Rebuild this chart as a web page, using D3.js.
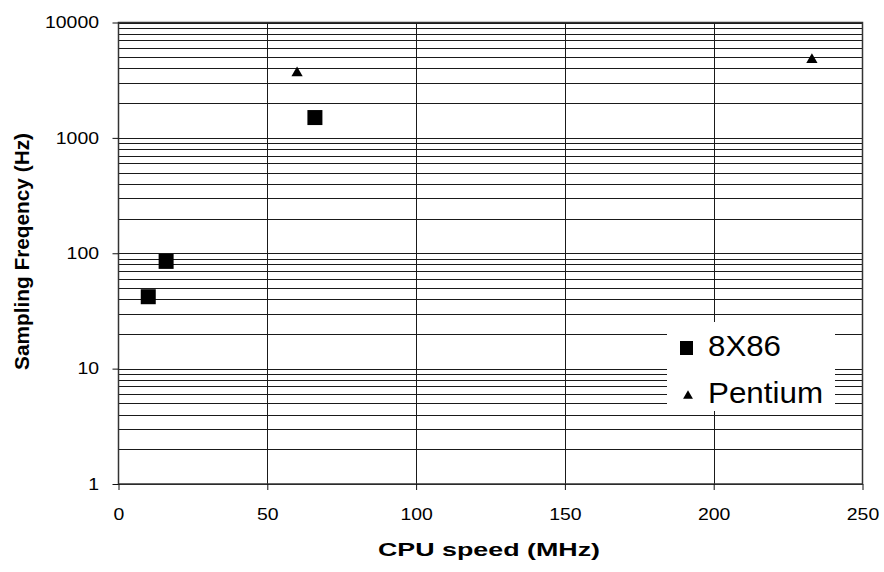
<!DOCTYPE html>
<html>
<head>
<meta charset="utf-8">
<script src="https://cdn.jsdelivr.net/npm/d3@7"></script>
<style>
  body { margin: 0; background: #fff; }
  text { font-family: "Liberation Sans", Arial, sans-serif; }
</style>
</head>
<body>
<svg id="chart" width="884" height="572"></svg>
<script>
// values
const x86Speed = [10, 16, 66];
const x86Freq = [42, 85, 1500];
const pentiumSpeed = [60, 233];
const pentiumFreq = [3650, 4750];
const xTicks = [0, 50, 100, 150, 200, 250];
const yTicks = [1, 10, 100, 1000, 10000];
const seriesNames = ["8X86", "Pentium"];

const svg = d3.select("#chart");
const pLeft = 118.5, pRight = 862.5, pTop = 22.5, pBottom = 484;

const x = d3.scaleLinear().domain([0, 250]).range([pLeft, pRight]);
const y = d3.scaleLog().domain([1, 10000]).range([pBottom, pTop]);

// minor log grid: 1..9 for each decade
let gridVals = [];
for (let d = 1; d < 10000; d *= 10)
  for (let k = 1; k < 10; k++) gridVals.push(d * k);
gridVals.push(10000);

const grid = svg.append("g");
grid.selectAll("line.h")
  .data(gridVals)
  .enter()
  .append("line")
  .attr("class", "h")
  .attr("x1", pLeft).attr("x2", pRight)
  .attr("y1", d => Math.round(y(d)) + 0.5)
  .attr("y2", d => Math.round(y(d)) + 0.5)
  .attr("stroke", "#1a1a1a")
  .attr("stroke-width", 1);

grid.selectAll("line.v")
  .data(xTicks.slice(1, -1))
  .enter()
  .append("line")
  .attr("class", "v")
  .attr("x1", d => Math.round(x(d)) + 0.5)
  .attr("x2", d => Math.round(x(d)) + 0.5)
  .attr("y1", pTop).attr("y2", pBottom)
  .attr("stroke", "#1a1a1a")
  .attr("stroke-width", 1);

// plot border
svg.append("rect")
  .attr("x", pLeft).attr("y", pTop)
  .attr("width", pRight - pLeft).attr("height", pBottom - pTop)
  .attr("fill", "none")
  .attr("stroke", "#333")
  .attr("stroke-width", 1.5);

// axes
const xAxis = svg.append("g")
  .attr("transform", `translate(0,${pBottom})`)
  .call(d3.axisBottom(x).tickValues(xTicks).tickSize(6).tickPadding(18).tickFormat(d3.format("d")));
const yAxis = svg.append("g")
  .attr("transform", `translate(${pLeft},0)`)
  .call(d3.axisLeft(y).tickValues(yTicks).tickSize(6).tickPadding(13.5).tickFormat(d3.format("d")));
[xAxis, yAxis].forEach(a => {
  a.select(".domain").remove();
  a.selectAll("line").attr("stroke", "#111");
  a.selectAll("text").attr("font-size", 16.5).attr("fill", "#000")
    .attr("font-family", "Liberation Sans, Arial, sans-serif")
    .attr("textLength", d => String(d).length * 10.8)
    .attr("lengthAdjust", "spacingAndGlyphs");
});

// points
svg.append("g")
  .selectAll("rect")
  .data(x86Speed.map((s, i) => [s, x86Freq[i]]))
  .enter()
  .append("rect")
  .attr("x", d => x(d[0]) - 7.5)
  .attr("y", d => y(d[1]) - 7.5)
  .attr("width", 15).attr("height", 15)
  .attr("fill", "#000");

const tri = d3.symbol().type(d3.symbolTriangle).size(55);
svg.append("g")
  .selectAll("path")
  .data(pentiumSpeed.map((s, i) => [s, pentiumFreq[i]]))
  .enter()
  .append("path")
  .attr("d", tri)
  .attr("transform", d => `translate(${x(d[0])},${y(d[1])})`)
  .attr("fill", "#000");

// legend
const lg = svg.append("g");
lg.append("rect")
  .attr("x", 667).attr("y", 322)
  .attr("width", 168).attr("height", 89)
  .attr("fill", "#fff");
lg.append("rect")
  .attr("x", 680).attr("y", 341)
  .attr("width", 13).attr("height", 14)
  .attr("fill", "#000");
lg.append("path")
  .attr("d", d3.symbol().type(d3.symbolTriangle).size(42))
  .attr("transform", "translate(688,396)")
  .attr("fill", "#000");
lg.selectAll("text")
  .data(seriesNames)
  .enter()
  .append("text")
  .attr("x", 708)
  .attr("y", (d, i) => 356 + i * 47.3)
  .attr("font-size", 29)
  .attr("textLength", (d, i) => i ? 115 : 73)
  .attr("lengthAdjust", "spacingAndGlyphs")
  .text(d => d);

// axis titles
svg.append("text")
  .attr("x", 489).attr("y", 556)
  .attr("text-anchor", "middle")
  .attr("font-size", 18.5).attr("font-weight", "bold")
  .attr("textLength", 222).attr("lengthAdjust", "spacingAndGlyphs")
  .text("CPU speed (MHz)");
svg.append("text")
  .attr("transform", "translate(29,251.5) rotate(-90)")
  .attr("text-anchor", "middle")
  .attr("font-size", 20).attr("font-weight", "bold")
  .attr("textLength", 237).attr("lengthAdjust", "spacingAndGlyphs")
  .text("Sampling Freqency (Hz)");
</script>
</body>
</html>
